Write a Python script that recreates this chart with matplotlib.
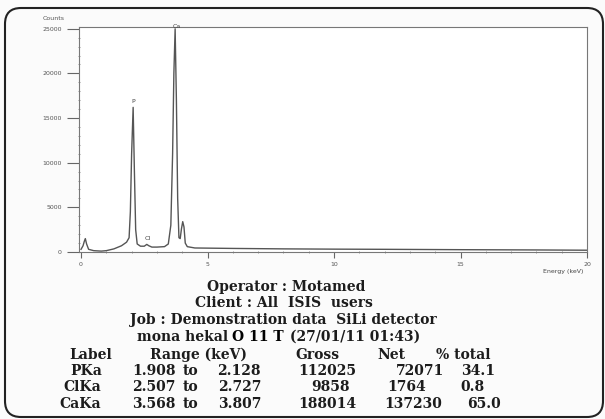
import numpy as np
import matplotlib.pyplot as plt
from matplotlib.patches import FancyBboxPatch
from matplotlib.transforms import IdentityTransform

# spectrum (energy in keV, counts)
energy = [0.0, 0.08, 0.13, 0.17, 0.22, 0.3, 0.5, 0.8, 1.0, 1.3, 1.6, 1.8, 1.9,
          1.95, 2.0, 2.06, 2.11, 2.16, 2.22, 2.35, 2.5, 2.6, 2.68, 2.8, 3.0,
          3.3, 3.45, 3.55, 3.62, 3.67, 3.72, 3.77, 3.82, 3.87, 3.92, 3.97,
          4.02, 4.07, 4.12, 4.2, 4.5, 6.0, 8.0, 10.0, 12.0, 15.0, 18.0, 20.0]
counts = [300, 700, 1200, 1500, 900, 300, 150, 100, 150, 350, 700, 1100, 1600,
          4500, 11000, 16200, 9000, 2500, 900, 650, 650, 850, 700, 550, 550,
          600, 900, 3000, 11000, 20000, 25000, 17000, 6000, 1600, 1500, 2600,
          3400, 2800, 1000, 600, 450, 400, 350, 320, 300, 260, 230, 200]

peak_names = ['P', 'Cl', 'Ca']
peak_pos = [2.06, 2.65, 3.78]
peak_lab_y = [16600, 1200, 25000]

# results table
tbl_label = ['PKa', 'ClKa', 'CaKa']
tbl_lo = ['1.908', '2.507', '3.568']
tbl_hi = ['2.128', '2.727', '3.807']
tbl_gross = ['112025', '9858', '188014']
tbl_net = ['72071', '1764', '137230']
tbl_pct = ['34.1', '0.8', '65.0']

W, H = 605, 419
fig = plt.figure(figsize=(W / 100, H / 100), dpi=100)
fig.patch.set_facecolor('#fbfbfb')

def px(x, y):
    return x / W, 1 - y / H

ax = fig.add_axes([79 / W, 1 - 252 / H, (587 - 79) / W, (252 - 27) / H])
ax.set_facecolor('white')
ax.plot(energy, counts, color='#555555', lw=1.0)
for name, xp, yp in zip(peak_names, peak_pos, peak_lab_y):
    ax.text(xp, yp, name, fontsize=4.5, color='#444444', ha='center', va='bottom')

ax.set_xlim(-0.08, 20.0)
ax.set_ylim(0, 25200)
ax.set_xticks([0, 5, 10, 15, 20])
ax.set_xticks(np.arange(0, 21, 1), minor=True)
ax.set_yticks([0, 5000, 10000, 15000, 20000, 25000])
ax.set_yticks(np.arange(0, 25001, 1000), minor=True)
ax.tick_params(axis='both', which='major', labelsize=4.5, labelcolor='#555555',
               color='#666666', width=0.8)
ax.tick_params(axis='y', which='major', length=9, direction='out')
ax.tick_params(axis='x', which='major', length=4, direction='out')
ax.tick_params(axis='both', which='minor', length=2, direction='inout',
               color='#888888', width=0.6)
for s in ax.spines.values():
    s.set_color('#777777')
    s.set_linewidth(0.8)

fig.text(*px(54, 18), 'Counts', fontsize=4.5, color='#555555', ha='center', va='center')
fig.text(*px(563, 271), 'Energy (keV)', fontsize=4.5, color='#444444', ha='center', va='center')

# header block and table, bold serif like the printout
kw = dict(fontsize=10, family='DejaVu Serif', weight='bold', va='center')
tc = '#1c1c1c'
fig.text(*px(286, 287), 'Operator : Motamed', ha='center', color=tc, **kw)
fig.text(*px(284, 303), 'Client : All  ISIS  users', ha='center', color=tc, **kw)
fig.text(*px(283, 320), 'Job : Demonstration data  SiLi detector', ha='center', color=tc, **kw)
fig.text(*px(137, 337), 'mona hekal', ha='left', color=tc, **kw)
fig.text(*px(232, 337), 'O 11 T', ha='left', color='black', **kw)
fig.text(*px(290, 337), '(27/01/11 01:43)', ha='left', color=tc, **kw)

hdr_y = 355
fig.text(*px(91, hdr_y), 'Label', ha='center', color=tc, **kw)
fig.text(*px(198, hdr_y), 'Range (keV)', ha='center', color=tc, **kw)
fig.text(*px(317, hdr_y), 'Gross', ha='center', color=tc, **kw)
fig.text(*px(391, hdr_y), 'Net', ha='center', color=tc, **kw)
fig.text(*px(463, hdr_y), '% total', ha='center', color=tc, **kw)

row_y = [371, 387, 404]
lab_x = [86, 82, 80]
gross_x = [327, 330, 327]
net_x = [420, 407, 413]
pct_x = [478, 472, 484]
for i in range(3):
    y = row_y[i]
    fig.text(*px(lab_x[i], y), tbl_label[i], ha='center', color=tc, **kw)
    fig.text(*px(132, y), tbl_lo[i], ha='left', color=tc, **kw)
    fig.text(*px(190, y), 'to', ha='center', color=tc, **kw)
    fig.text(*px(261, y), tbl_hi[i], ha='right', color=tc, **kw)
    fig.text(*px(gross_x[i], y), tbl_gross[i], ha='center', color=tc, **kw)
    fig.text(*px(net_x[i], y), tbl_net[i], ha='center', color=tc, **kw)
    fig.text(*px(pct_x[i], y), tbl_pct[i], ha='center', color=tc, **kw)

# rounded frame of the scanned page
frame = FancyBboxPatch((5, 2), 598, 409, boxstyle='round,pad=0,rounding_size=16',
                       transform=IdentityTransform(), fill=False,
                       edgecolor='#222222', linewidth=1.5)
fig.patches.append(frame)

fig.savefig('out.png', dpi=100, facecolor=fig.get_facecolor())
